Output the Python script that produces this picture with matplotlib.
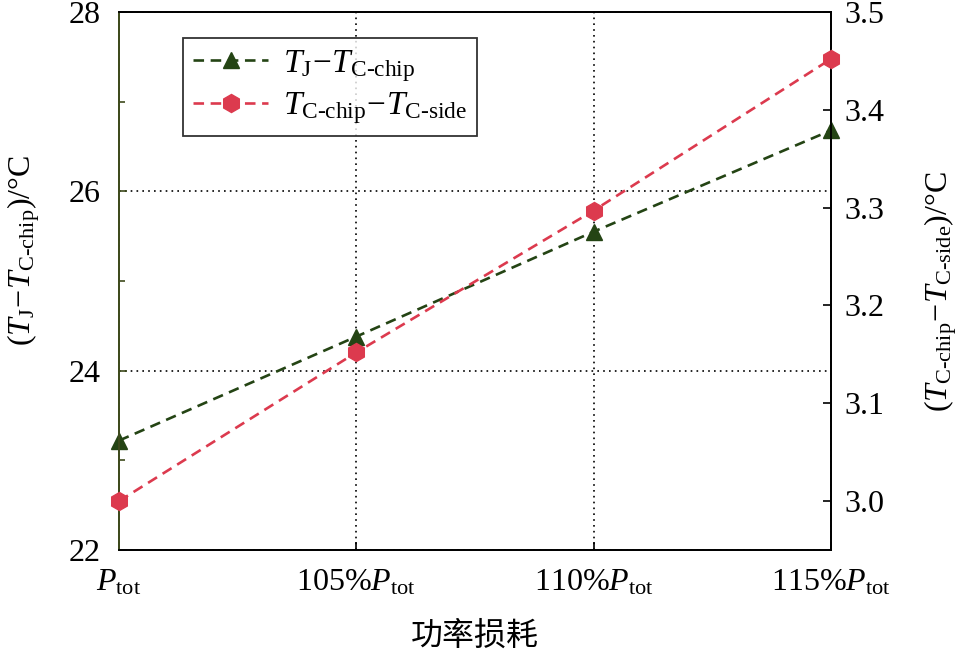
import matplotlib
matplotlib.use('Agg')
import matplotlib.pyplot as plt
from matplotlib.ticker import MultipleLocator

plt.rcParams['font.family'] = ['Liberation Serif', 'Noto Sans CJK SC']
plt.rcParams['mathtext.fontset'] = 'custom'
plt.rcParams['mathtext.rm'] = 'Liberation Serif'
plt.rcParams['mathtext.it'] = 'Liberation Serif:italic'
plt.rcParams['mathtext.bf'] = 'Liberation Serif:bold'

# data
x_labels = [r'$P_{\mathrm{tot}}$', r'105%$P_{\mathrm{tot}}$',
            r'110%$P_{\mathrm{tot}}$', r'115%$P_{\mathrm{tot}}$']
x_pos = [0, 1, 2, 3]
dT_j_chip = [23.22, 24.38, 25.55, 26.68]
dT_chip_side = [3.000, 3.152, 3.297, 3.452]

green = '#244414'
red = '#dc3a4e'
fs = 23

fig = plt.figure(figsize=(9.62, 6.56), dpi=100)
ax = fig.add_axes([0.1237, 0.1616, 0.7401, 0.8201])
ax2 = ax.twinx()

l1, = ax.plot(x_pos, dT_j_chip, '--', color=green, lw=1.9, dashes=(4, 2.5),
              marker='^', ms=12, mec=green, mfc=green, clip_on=False, zorder=5,
              label=r'$T_{\mathrm{J}}\!-\!T_{\text{C-chip}}$')
l2, = ax2.plot(x_pos, dT_chip_side, '--', color=red, lw=1.9, dashes=(4, 2.5),
               marker='h', ms=13, mec=red, mfc=red, clip_on=False, zorder=5,
               label=r'$T_{\text{C-chip}}\!-\!T_{\text{C-side}}$')

ax.set_xlim(0, 3)
ax.set_ylim(22, 28)
ax2.set_ylim(2.95, 3.5)
ax.set_xticks(x_pos)
ax.set_xticklabels(x_labels)
ax.set_yticks([22, 24, 26, 28])
ax.yaxis.set_minor_locator(MultipleLocator(1))
ax2.set_yticks([3.0, 3.1, 3.2, 3.3, 3.4, 3.5])
ax2.set_yticklabels(['3.0', '3.1', '3.2', '3.3', '3.4', '3.5'])

for a in (ax, ax2):
    a.tick_params(direction='in', labelsize=fs, length=6, width=1.2)
    a.tick_params(which='minor', direction='in', length=4, width=1.2)
    for s in a.spines.values():
        s.set_linewidth(1.3)
ax.tick_params(axis='x', pad=13)
ax.tick_params(axis='y', pad=13)
ax2.tick_params(axis='y', pad=10)
ax.spines['left'].set_color('#3e4a1c')
ax2.spines['left'].set_color('#3e4a1c')
ax.tick_params(axis='y', which='both', color='#3e4a1c')

ax.grid(True, color='black', linestyle=(0, (1, 2.5)), lw=1.2)

ax.set_xlabel('功率损耗', family='Noto Sans CJK SC', fontsize=fs, labelpad=16)
ax.set_ylabel(r'$(T_{\mathrm{J}}\!-\!T_{\text{C-chip}})$/°C', fontsize=fs)
ax2.set_ylabel(r'$(T_{\text{C-chip}}\!-\!T_{\text{C-side}})$/°C', fontsize=fs)
ax.yaxis.set_label_coords(-0.108, 0.556)
ax2.yaxis.set_label_coords(1.129, 0.481)

leg = ax.legend(handles=[l1, l2], loc='upper left', bbox_to_anchor=(0.09, 0.952),
                borderaxespad=0, fontsize=24, frameon=True, fancybox=False,
                edgecolor='black', handlelength=2.25, borderpad=0.3,
                labelspacing=0.2, handletextpad=0.45)
leg.get_frame().set_linewidth(1.3)

fig.savefig('out.png', dpi=100)
